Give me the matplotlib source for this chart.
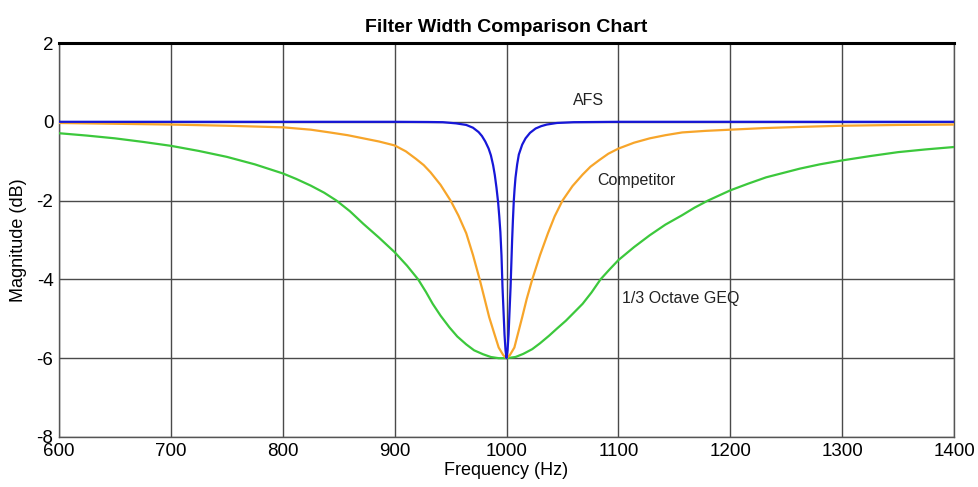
import matplotlib
matplotlib.use("Agg")
import matplotlib.pyplot as plt

plt.rcParams["font.family"] = ["Liberation Sans", "DejaVu Sans"]
plt.rcParams["axes.unicode_minus"] = False

# --- filter responses (Hz, dB) ---
geq_freq = [600, 625, 650, 675, 700, 725, 750, 775, 800, 812, 825, 837, 848, 860, 872, 886,
            900, 911, 921, 928, 934, 941, 949, 956, 964, 971, 979, 986, 993, 1000, 1008,
            1015, 1023, 1030, 1038, 1045, 1053, 1060, 1068, 1076, 1084, 1092, 1100, 1114,
            1128, 1142, 1157, 1168, 1180, 1200, 1216, 1232, 1247, 1262, 1280, 1300, 1325,
            1350, 1375, 1400]
geq_db = [-0.29, -0.35, -0.42, -0.51, -0.61, -0.74, -0.89, -1.08, -1.31, -1.45, -1.62, -1.8,
          -2.0, -2.27, -2.59, -2.94, -3.31, -3.65, -4.0, -4.32, -4.62, -4.92, -5.22, -5.45,
          -5.65, -5.8, -5.9, -5.97, -6.0, -6.0, -5.97, -5.89, -5.77, -5.62, -5.43, -5.25,
          -5.05, -4.85, -4.62, -4.33, -4.0, -3.75, -3.51, -3.18, -2.88, -2.61, -2.37, -2.18,
          -2.0, -1.74, -1.57, -1.41, -1.3, -1.19, -1.08, -0.98, -0.87, -0.77, -0.7, -0.64]

comp_freq = [600, 650, 700, 750, 800, 825, 842, 858, 872, 886, 900, 910, 919, 926, 932, 941,
             950, 957, 964, 970, 976, 980, 984.5, 989, 993, 997, 1000, 1003, 1007, 1010,
             1014, 1018, 1023, 1030, 1037, 1043, 1050, 1059, 1068, 1075, 1083, 1091, 1100,
             1114, 1128, 1142, 1157, 1178, 1200, 1230, 1262, 1300, 1350, 1400]
comp_db = [-0.03, -0.05, -0.07, -0.1, -0.14, -0.2, -0.27, -0.34, -0.42, -0.5, -0.6, -0.75,
           -0.94, -1.1, -1.28, -1.6, -2.0, -2.38, -2.83, -3.38, -4.0, -4.45, -4.96, -5.37,
           -5.73, -5.92, -6.0, -5.92, -5.73, -5.4, -4.96, -4.5, -4.0, -3.38, -2.83, -2.4,
           -2.0, -1.63, -1.34, -1.14, -0.97, -0.81, -0.68, -0.53, -0.42, -0.34, -0.27, -0.23,
           -0.2, -0.16, -0.13, -0.1, -0.08, -0.07]

afs_freq = [600, 900, 930, 943, 955, 964, 970, 975, 978, 981, 984, 986, 988, 989.5, 991,
            992.5, 993.5, 994.5, 995.5, 996.4, 997.3, 998.2, 999.1, 1000, 1000.9, 1001.8,
            1002.7, 1003.6, 1004.3, 1005, 1005.7, 1006.5, 1007.2, 1008, 1009.5, 1011, 1014,
            1017, 1021, 1026, 1031, 1036, 1045, 1060, 1100, 1400]
afs_db = [0, 0, -0.005, -0.01, -0.04, -0.08, -0.15, -0.26, -0.36, -0.5, -0.68, -0.85, -1.1,
          -1.35, -1.67, -2.05, -2.4, -2.8, -3.4, -4.2, -4.8, -5.4, -5.8, -6.0, -5.8, -5.4,
          -4.8, -4.2, -3.6, -3.0, -2.5, -2.0, -1.7, -1.42, -1.08, -0.83, -0.58, -0.42,
          -0.28, -0.17, -0.11, -0.07, -0.03, -0.01, 0, 0]

x_ticks = [600, 700, 800, 900, 1000, 1100, 1200, 1300, 1400]
y_ticks = [2, 0, -2, -4, -6, -8]

# curve labels: (text, x, y)
labels = [("AFS", 1059, 0.53), ("Competitor", 1081, -1.5), ("1/3 Octave GEQ", 1103, -4.49)]

fig = plt.figure(figsize=(9.79, 4.87), dpi=100)
ax = fig.add_axes([0.0603, 0.1027, 0.9142, 0.809])

ax.plot(geq_freq, geq_db, color="#3cc83c", lw=1.6, zorder=3)
ax.plot(comp_freq, comp_db, color="#f7a52a", lw=1.6, zorder=4)
ax.plot(afs_freq, afs_db, color="#1717d8", lw=1.6, zorder=5)

for txt, x, y in labels:
    ax.text(x, y, txt, fontsize=11.5, va="center", ha="left", color="#222222")

ax.set_xlim(600, 1400)
ax.set_ylim(-8, 2)
ax.set_xticks(x_ticks)
ax.set_yticks(y_ticks)
ax.tick_params(length=0, labelsize=13.5, pad=4)
ax.grid(True, color="#4a4a4a", lw=1.0)
ax.set_axisbelow(True)

for s in ["left", "bottom", "right"]:
    ax.spines[s].set_color("#555555")
    ax.spines[s].set_linewidth(1.0)
ax.spines["top"].set_color("black")
ax.spines["top"].set_linewidth(2.2)

ax.set_xlabel("Frequency (Hz)", fontsize=13, labelpad=2)
ax.set_ylabel("Magnitude (dB)", fontsize=13, labelpad=7)
ax.set_title("Filter Width Comparison Chart", fontsize=14, fontweight="bold", pad=8)

fig.savefig("out.png", dpi=100)
